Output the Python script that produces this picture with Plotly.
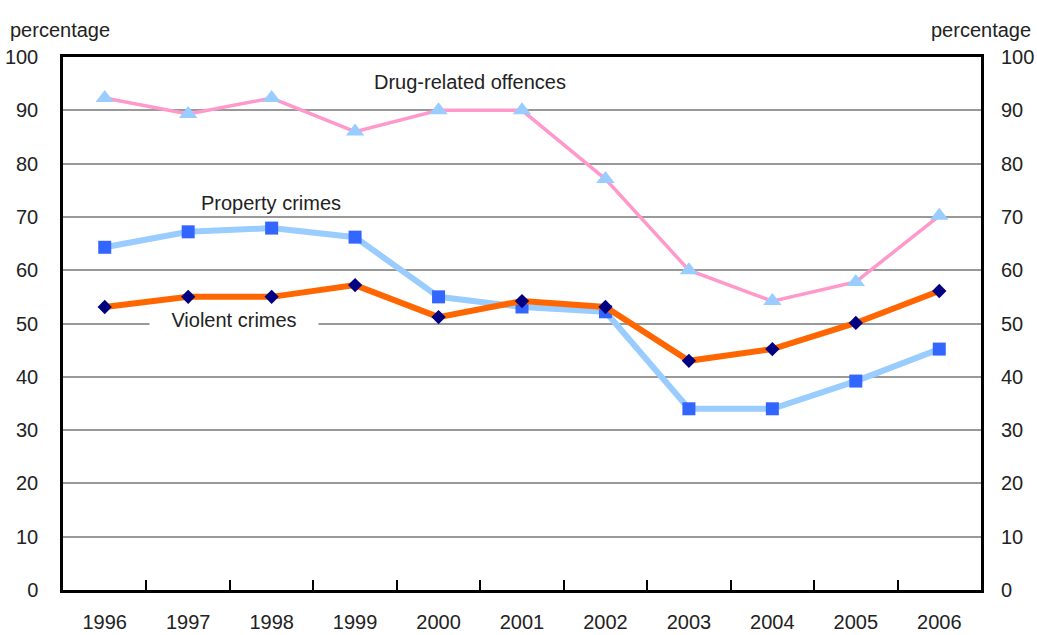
import plotly.graph_objects as go

years = ["1996", "1997", "1998", "1999", "2000", "2001", "2002", "2003", "2004", "2005", "2006"]
drug = [92.3, 89.3, 92.3, 86.0, 90.0, 90.0, 77.1, 60.0, 54.2, 57.8, 70.2]
property_crimes = [64.3, 67.2, 67.9, 66.2, 55.0, 53.1, 52.2, 34.0, 34.0, 39.2, 45.2]
violent = [53.1, 55.0, 55.0, 57.2, 51.2, 54.2, 53.1, 43.0, 45.2, 50.1, 56.1]
y_ticks = [0, 10, 20, 30, 40, 50, 60, 70, 80, 90, 100]

FONT = "Liberation Sans, Arial, sans-serif"
TXT = "#222222"
FS = 20

fig = go.Figure()
fig.add_trace(go.Scatter(
    x=years, y=drug, mode="lines+markers", name="Drug-related offences",
    line=dict(color="#FF99CC", width=3.5),
    marker=dict(symbol="triangle-up", size=16, color="#99CCFF", line=dict(width=0)),
))
fig.add_trace(go.Scatter(
    x=years, y=property_crimes, mode="lines+markers", name="Property crimes",
    line=dict(color="#99CCFF", width=6),
    marker=dict(symbol="square", size=13, color="#3366FF", line=dict(width=0)),
))
fig.add_trace(go.Scatter(
    x=years, y=violent, mode="lines+markers", name="Violent crimes",
    line=dict(color="#FF6600", width=6),
    marker=dict(symbol="diamond", size=11, color="#000080", line=dict(width=0)),
))
fig.add_trace(go.Scatter(x=years, y=[None] * len(years), yaxis="y2",
                         showlegend=False, hoverinfo="skip", mode="lines"))

fig.update_layout(
    width=1037, height=635,
    margin=dict(l=63, r=56, t=57, b=45, autoexpand=False),
    paper_bgcolor="white", plot_bgcolor="white",
    showlegend=False,
    font=dict(family=FONT, size=FS, color=TXT),
    xaxis=dict(
        type="category", range=[-0.5, 10.5],
        showgrid=False, showline=True, linecolor="black", linewidth=2.5,
        mirror=True, ticks="inside", tickson="boundaries", ticklen=10,
        tickwidth=2, tickcolor="black", ticklabelstandoff=12,
        tickfont=dict(family=FONT, size=FS, color=TXT),
    ),
    yaxis=dict(
        range=[0, 100], tickvals=y_ticks, showgrid=True, gridcolor="#999999",
        gridwidth=1.5, showline=True, linecolor="black", linewidth=2.5,
        mirror=True, ticks="", ticklabelstandoff=18, zeroline=False,
        tickfont=dict(family=FONT, size=FS, color=TXT),
    ),
    yaxis2=dict(
        range=[0, 100], tickvals=y_ticks, overlaying="y", side="right",
        showgrid=False, showline=False, ticks="", ticklabelstandoff=19,
        zeroline=False, tickfont=dict(family=FONT, size=FS, color=TXT),
    ),
)

fig.add_annotation(x=4.377, y=95.3, xref="x", yref="y", text="Drug-related offences",
                   showarrow=False, font=dict(family=FONT, size=FS, color=TXT))
fig.add_annotation(x=1.99, y=72.6, xref="x", yref="y", text="Property crimes",
                   showarrow=False, bgcolor="white", width=166, height=22,
                   font=dict(family=FONT, size=FS, color=TXT))
fig.add_annotation(x=1.545, y=50.65, xref="x", yref="y", text="Violent crimes",
                   showarrow=False, bgcolor="white", width=166, height=22,
                   font=dict(family=FONT, size=FS, color=TXT))
fig.add_annotation(x=-0.0599, y=1.075, xref="paper", yref="paper", text="percentage",
                   xanchor="left", showarrow=False, font=dict(family=FONT, size=FS, color=TXT))
fig.add_annotation(x=1.0566, y=1.075, xref="paper", yref="paper", text="percentage",
                   xanchor="right", showarrow=False, font=dict(family=FONT, size=FS, color=TXT))

fig.write_html("out.html")
